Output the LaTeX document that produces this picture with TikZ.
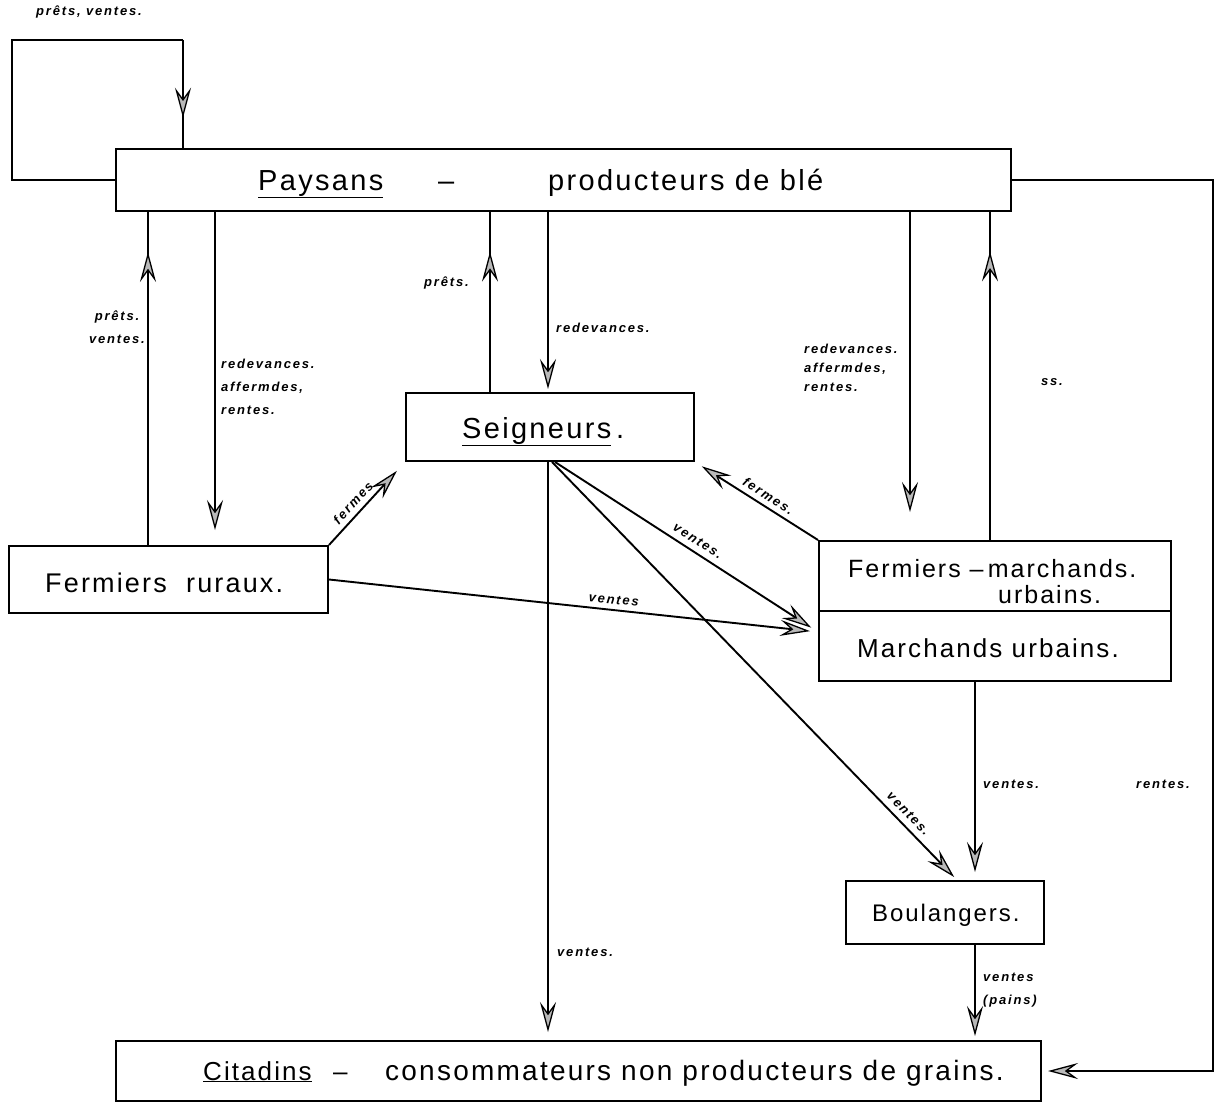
\documentclass[tikz,border=0pt]{standalone}
\usepackage{fontspec}
\setmainfont{Liberation Sans}
\newfontfamily\boxfam[LetterSpace=8]{Liberation Sans}
\newfontfamily\labfam[LetterSpace=14]{Liberation Sans}
\usetikzlibrary{arrows.meta,decorations.markings,calc}
\newcommand\bfs[1]{\boxfam\fontsize{#1}{#1}\selectfont}
\newcommand\labfont{\labfam\bfseries\itshape\fontsize{13}{23}\selectfont}
\tikzset{
  box/.style={draw, line width=2pt, inner sep=0pt, anchor=north west},
  conn/.style={line width=1.9pt},
  headtip/.tip={Stealth[length=30pt,width=16pt,inset=11pt,fill=gray!55,line width=1.3pt]},
  arr/.style={conn,-headtip},
  mid/.style={conn, postaction={decorate}, decoration={markings, mark=at position #1 with {\arrow{headtip}}}},
  txt/.style={inner sep=0pt, anchor=base west},
  lab/.style={font=\labfont, inner sep=1pt}
}
\begin{document}
\begin{tikzpicture}[x=1pt,y=-1pt]
\useasboundingbox (0,0) rectangle (1217,1102);
% boxes
\node[box, minimum width=895pt, minimum height=62pt] (pay) at (115,148) {};
\node[box, minimum width=288pt, minimum height=68pt] (sei) at (405,392) {};
\node[box, minimum width=319pt, minimum height=67pt] (fr) at (8,545) {};
\node[box, minimum width=352pt, minimum height=70pt] (fm) at (818,540) {};
\node[box, minimum width=352pt, minimum height=70pt] (mu) at (818,610) {};
\node[box, minimum width=198pt, minimum height=63pt] (bou) at (845,880) {};
\node[box, minimum width=925pt, minimum height=60pt] (cit) at (115,1040) {};
% box texts
\node[txt, font=\bfs{29}] (payA) at (258,190) {\underline{Paysans}};
\node[txt, font=\bfs{29}] (payB) at (438,190) {–};
\node[txt, font=\bfs{29}] (payC) at (548,190) {producteurs de blé};
\node[txt, font=\bfs{29}] (seiA) at (462,438) {\underline{Seigneurs}\,.};
\node[txt, font=\bfs{27}] (frA) at (45,592) {Fermiers\ \ ruraux.};
\node[txt, font=\bfs{25}] (fmA) at (848,577) {Fermiers –\,marchands.};
\node[txt, font=\bfs{25}] (fmB) at (998,603) {urbains.};
\node[txt, font=\bfs{26}] (muA) at (857,657) {Marchands urbains.};
\node[txt, font=\bfs{24}] (bouA) at (872,921) {Boulangers.};
\node[txt, font=\bfs{26}] (citA) at (203,1080) {\underline{Citadins}};
\node[txt, font=\bfs{26}] (citB) at (333,1080) {–};
\node[txt, font=\bfs{28}] (citC) at (385,1080) {consommateurs non producteurs de grains.};
% top-left loop
\coordinate (tl) at (183,40);
\draw[conn] (pay.west) -- (12,0 |- pay.west) -- (12,40) -- (tl);
\draw[mid=0.72] (tl) -- (183,0 |- pay.north);
% right loop
\coordinate (tr) at (1213,0 |- pay.east);
\coordinate (br) at (1213,0 |- cit.east);
\draw[arr, shorten >=6pt] (pay.east) -- (tr) -- (br) -- (cit.east);
% verticals
\draw[mid=0.88] (148,0 |- fr.north) -- (148,0 |- pay.south);
\draw[arr, shorten >=15pt] (215,0 |- pay.south) -- (215,0 |- fr.north);
\draw[mid=0.78] (490,0 |- sei.north) -- (490,0 |- pay.south);
\draw[arr, shorten >=3pt] (548,0 |- pay.south) -- (548,0 |- sei.north);
\draw[arr, shorten >=28pt] (910,0 |- pay.south) -- (910,0 |- fm.north);
\draw[mid=0.88] (990,0 |- fm.north) -- (990,0 |- pay.south);
\draw[arr, shorten >=8pt] (548,0 |- sei.south) -- (548,0 |- cit.north);
\draw[arr, shorten >=8pt] (975,0 |- mu.south) -- (975,0 |- bou.north);
\draw[arr, shorten >=4pt] (975,0 |- bou.south) -- (975,0 |- cit.north);
% diagonals
\coordinate (mutip) at ($(mu.north west)+(0,22)$);
\draw[arr, shorten >=12pt] (fr.north east) -- (sei.south west)
  node[lab, pos=0.42, sloped, above=4pt] {fermes};
\draw[arr, shorten >=8pt] (fm.north west) -- (sei.south east)
  node[lab, pos=0.45, sloped, above=4pt] {fermes.};
\draw[arr, shorten >=8pt] (555,0 |- sei.south) -- (mutip)
  node[lab, pos=0.52, sloped, above=5pt] {ventes.};
\draw[arr, shorten >=8pt] (fr.east) -- (mutip)
  node[lab, pos=0.58, sloped, above=4pt] {ventes};
\draw[arr, shorten >=4pt] (552,0 |- sei.south) -- ($(bou.north west)!0.56!(bou.north east)$)
  node[lab, pos=0.86, sloped, above=5pt] {ventes.};
% labels
\node[lab, anchor=west] (l1) at (35,12) {prêts, ventes.};
\node[lab, align=center] (l2) at (117,327) {prêts.\\ventes.};
\node[lab, align=left, anchor=north west] (l3) at (220,358) {redevances.\\affermdes,\\rentes.};
\node[lab, anchor=west] (l4) at (423,283) {prêts.};
\node[lab, anchor=west] (l5) at (555,328) {redevances.};
\node[lab, align=left, anchor=north west, font=\labfam\bfseries\itshape\fontsize{13}{19}\selectfont] (l6) at (803,343) {redevances.\\affermdes,\\rentes.};
\node[lab] (l7) at (1052,382) {ss.};
\node[lab, anchor=west] (l8) at (982,784) {ventes.};
\node[lab, anchor=west] (l9) at (1135,784) {rentes.};
\node[lab, anchor=west] (l10) at (556,952) {ventes.};
\node[lab, align=left, anchor=west] (l11) at (982,990) {ventes\\(pains)};
\end{tikzpicture}
\end{document}
